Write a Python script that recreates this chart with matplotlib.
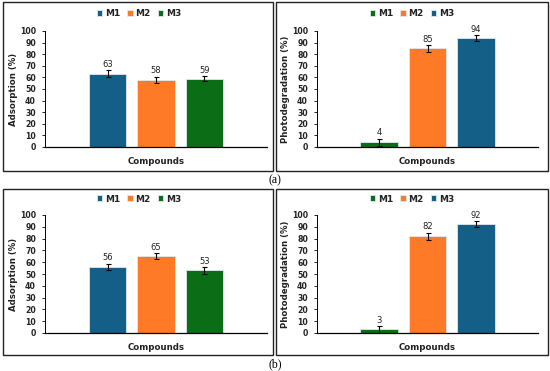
import matplotlib
matplotlib.use("Agg")
import matplotlib.pyplot as plt
from matplotlib.patches import Rectangle
import numpy as np

W, H = 550, 371

BLUE = '#135F87'
ORANGE = '#FF7A27'
GREEN = '#0B6E17'

# panel data
labels_ads = ['M1', 'M2', 'M3']
labels_photo = ['M1', 'M2', 'M3']
colors_ads = [BLUE, ORANGE, GREEN]
colors_photo = [GREEN, ORANGE, BLUE]

ads_a = [63, 58, 59]
ads_a_err = [3, 2.5, 2]
photo_a = [4, 85, 94]
photo_a_err = [3, 3, 2.5]

ads_b = [56, 65, 53]
ads_b_err = [2.8, 2.5, 2.8]
photo_b = [3, 82, 92]
photo_b_err = [3, 3, 2.5]

yticks = list(range(0, 101, 10))

plt.rcParams['font.family'] = ['DejaVu Sans']
fig = plt.figure(figsize=(W / 100, H / 100), dpi=100)


def px_axes(left, top, right, bottom):
    return fig.add_axes([left / W, 1 - bottom / H, (right - left) / W, (bottom - top) / H])


def box(left, top, right, bottom):
    fig.patches.append(Rectangle((left / W, 1 - bottom / H), (right - left) / W, (bottom - top) / H,
                                 transform=fig.transFigure, fill=False, edgecolor='#222222',
                                 linewidth=1.0, zorder=0))


def panel(ax, vals, errs, names, colors, ylabel, box_center):
    x = np.arange(len(vals))
    bars = ax.bar(x, vals, width=0.78, color=colors, edgecolor='#dfe9f0', linewidth=0.6,
                  yerr=errs, error_kw=dict(ecolor='black', elinewidth=0.8, capsize=1.8, capthick=0.8))
    for xi, v, e in zip(x, vals, errs):
        ax.text(xi, v + e + 1.2, str(v), ha='center', va='bottom', fontsize=6, color='#222222')
    ax.set_xlim(1 - 2.29, 1 + 2.29)
    ax.set_ylim(0, 100)
    ax.set_yticks(yticks)
    ax.tick_params(axis='y', labelsize=5.6, length=2.5, width=0.6, pad=4)
    for t in ax.get_yticklabels():
        t.set_fontweight('bold')
        t.set_color('#222222')
    ax.set_xticks([])
    ax.spines['top'].set_visible(False)
    ax.spines['right'].set_visible(False)
    ax.spines['left'].set_linewidth(0.7)
    ax.spines['bottom'].set_linewidth(0.9)
    ax.set_ylabel(ylabel, fontsize=6.2, fontweight='bold', color='#222222', labelpad=1)
    ax.set_xlabel('Compounds', fontsize=6.2, fontweight='bold', color='#222222', labelpad=7)
    leg = ax.legend(bars, names, loc='center', ncol=3, frameon=False, fontsize=6.5,
                    handlelength=0.6, handleheight=0.6, handletextpad=0.3, columnspacing=0.8,
                    bbox_to_anchor=(box_center[0] / W, 1 - box_center[1] / H),
                    bbox_transform=fig.transFigure)
    for t in leg.get_texts():
        t.set_fontweight('bold')
        t.set_color('#222222')


# boxes
box(3, 2, 273, 171)
box(276, 2, 548, 171)
box(3, 189, 273, 355)
box(276, 189, 548, 355)

ax1 = px_axes(45, 31, 267, 147)
panel(ax1, ads_a, ads_a_err, labels_ads, colors_ads, 'Adsorption (%)', (139, 14))
ax2 = px_axes(317, 31, 538, 147)
panel(ax2, photo_a, photo_a_err, labels_photo, colors_photo, 'Photodegradation (%)', (412, 14))
ax3 = px_axes(45, 215, 267, 333)
panel(ax3, ads_b, ads_b_err, labels_ads, colors_ads, 'Adsorption (%)', (139, 199))
ax4 = px_axes(317, 215, 538, 333)
panel(ax4, photo_b, photo_b_err, labels_photo, colors_photo, 'Photodegradation (%)', (412, 199))

fig.text(275 / W, 1 - 180 / H, '(a)', ha='center', va='center', fontsize=8.5, family='Liberation Serif')
fig.text(275 / W, 1 - 364 / H, '(b)', ha='center', va='center', fontsize=8.5, family='Liberation Serif')

fig.savefig('out.png', dpi=100)
